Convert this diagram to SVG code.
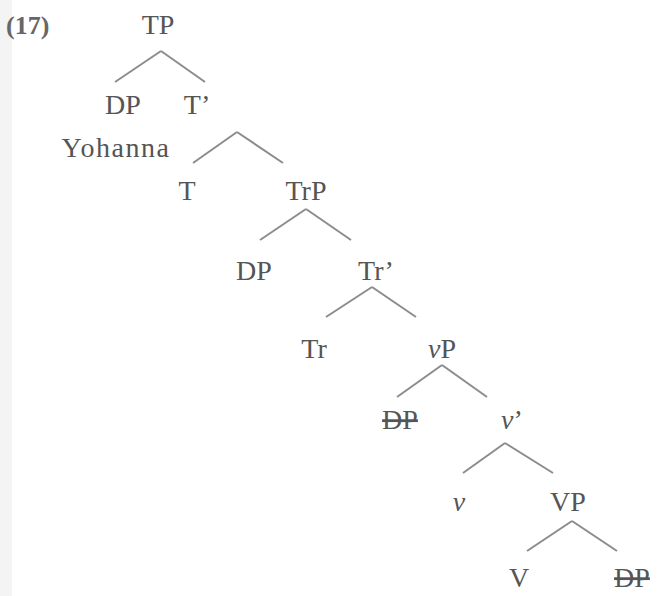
<svg xmlns="http://www.w3.org/2000/svg" width="659" height="596" viewBox="0 0 659 596">
<style>
text{font-family:"Liberation Serif","Times New Roman",serif;font-size:28px;fill:#555;text-anchor:middle}
.it{font-style:italic}
.del{text-decoration:line-through}
.num{font-weight:bold;font-size:26px;text-anchor:start;fill:#666}
#connectors line{stroke:#8c8c8c;stroke-width:2;fill:none}
</style>
<rect width="659" height="596" fill="#fff"/>
<rect x="0" y="0" width="12" height="596" fill="#f4f4f4"/>
<text class="num" x="6" y="34">(17)</text>
<g id="connectors">
<line x1="161" y1="51" x2="115" y2="82"/><line x1="161" y1="51" x2="205" y2="82"/>
<line x1="237" y1="132" x2="193" y2="163"/><line x1="237" y1="132" x2="283" y2="163"/>
<line x1="306" y1="209" x2="260" y2="240"/><line x1="306" y1="209" x2="351" y2="240"/>
<line x1="372" y1="287" x2="326" y2="317"/><line x1="372" y1="287" x2="416" y2="317"/>
<line x1="442" y1="365" x2="397" y2="397"/><line x1="442" y1="365" x2="487" y2="397"/>
<line x1="505" y1="443" x2="463" y2="473"/><line x1="505" y1="443" x2="553" y2="473"/>
<line x1="572" y1="521" x2="527" y2="551"/><line x1="572" y1="521" x2="617" y2="551"/>
</g>
<g id="n-TP"><text x="158" y="34">TP</text></g>
<g id="n-DP1"><text x="123" y="114">DP</text><text x="116" y="157" style="letter-spacing:1.5px">Yohanna</text></g>
<g id="n-Tbar"><text x="197" y="114">T’</text></g>
<g id="n-T"><text x="187" y="200">T</text></g>
<g id="n-TrP"><text x="306" y="200">TrP</text></g>
<g id="n-DP2"><text x="254" y="280">DP</text></g>
<g id="n-Trbar"><text x="376" y="280">Tr’</text></g>
<g id="n-Tr"><text x="314" y="358">Tr</text></g>
<g id="n-vP"><text x="442" y="358"><tspan class="it">v</tspan>P</text></g>
<g id="n-DP3"><text x="400" y="429" class="del">DP</text></g>
<g id="n-vbar"><text x="512" y="429"><tspan class="it">v</tspan>’</text></g>
<g id="n-v"><text x="459" y="511" class="it">v</text></g>
<g id="n-VP"><text x="568" y="511">VP</text></g>
<g id="n-V"><text x="519" y="587">V</text></g>
<g id="n-DP4"><text x="632" y="587" class="del">DP</text></g>
</svg>
